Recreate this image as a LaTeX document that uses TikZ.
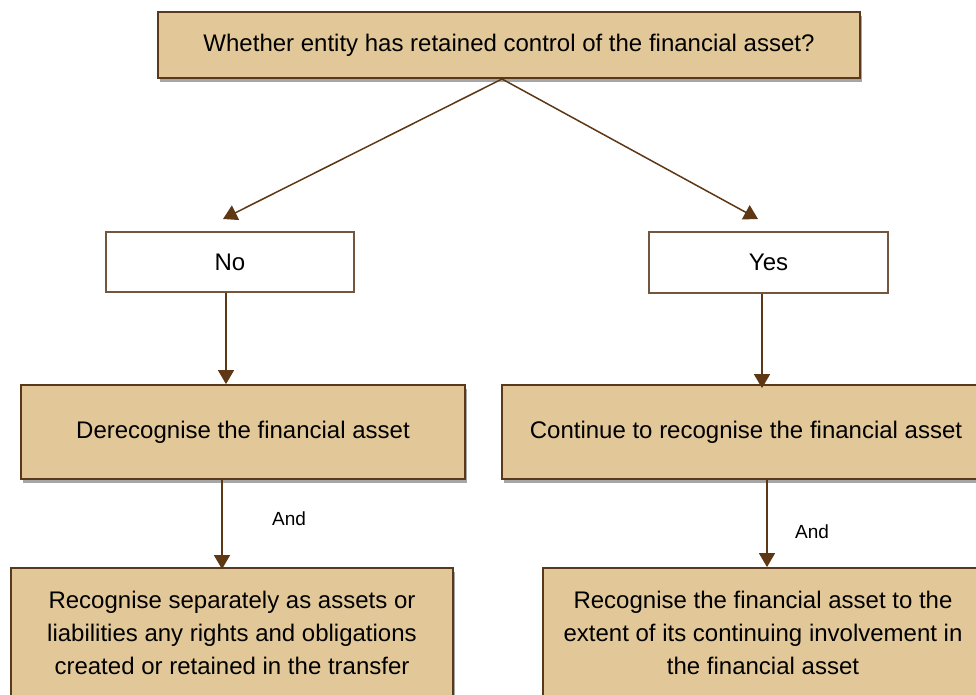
\documentclass[tikz,border=0pt]{standalone}
\usepackage{fontspec}
\setmainfont{Liberation Sans}
\usetikzlibrary{arrows.meta,shadows}

\definecolor{boxtan}{HTML}{E2C898}
\definecolor{boxedge}{HTML}{5A381C}
\definecolor{arrowbrown}{HTML}{5E3714}
\definecolor{shadowgray}{HTML}{A6A6A6}

\tikzset{
  tanbox/.style={draw=boxedge, line width=1.8pt, fill=boxtan, align=center,
    inner sep=0pt, font=\fontsize{24}{33}\selectfont,
    drop shadow={shadow xshift=2pt, shadow yshift=-4pt, fill=shadowgray, opacity=1}},
  answerbox/.style={draw=boxedge!85, line width=1.1pt, fill=white, align=center,
    inner sep=0pt, font=\fontsize{24}{33}\selectfont},
  flowarrow/.style={draw=arrowbrown, line width=1.5pt,
    -{Triangle[length=14pt,width=16pt]}},
  andlabel/.style={font=\fontsize{19}{22}\selectfont, inner sep=0pt}
}

\begin{document}
\begin{tikzpicture}[x=1pt,y=-1pt]
  \useasboundingbox (0,0) rectangle (976,695);

  % question at the top
  \node[tanbox, minimum width=702pt, minimum height=66pt] (question) at (509,45)
    {Whether entity has retained control of the financial asset?};

  % answers
  \node[answerbox, minimum width=248pt, minimum height=60pt] (no) at (230,262) {No};
  \node[answerbox, minimum width=239pt, minimum height=61pt] (yes) at (768.5,262.5) {Yes};

  % first consequences
  \node[tanbox, minimum width=444pt, minimum height=94pt] (derecog) at (243,432)
    {Derecognise the financial asset};
  \node[tanbox, minimum width=488pt, minimum height=94pt] (contrecog) at (746,432)
    {Continue to recognise the financial asset};

  % second consequences
  \node[tanbox, minimum width=442pt, minimum height=130pt] (separate) at (232,633)
    {Recognise separately as assets or\\liabilities any rights and obligations\\created or retained in the transfer};
  \node[tanbox, minimum width=440pt, minimum height=130pt] (involve) at (763,633)
    {Recognise the financial asset to the\\extent of its continuing involvement in\\the financial asset};

  % branching point and arrow tips above the answers
  \coordinate (split) at (502,79);
  \coordinate (noTip) at (223,219);
  \coordinate (yesTip) at (758,219);

  \draw[flowarrow] (split) -- (noTip);
  \draw[flowarrow] (split) -- (yesTip);

  \draw[flowarrow] ([xshift=-4pt]no.south) -- ([xshift=-4pt]no.south |- derecog.north);
  \draw[flowarrow] ([xshift=-6.5pt]yes.south) -- ([xshift=-6.5pt,yshift=-4pt]yes.south |- contrecog.north);

  \draw[flowarrow] ([xshift=-21pt]derecog.south) -- ([xshift=-21pt,yshift=-2pt]derecog.south |- separate.north);
  \draw[flowarrow] ([xshift=21pt]contrecog.south) -- ([xshift=21pt]contrecog.south |- involve.north);

  \node[andlabel] (andLeft) at (289,519) {And};
  \node[andlabel] (andRight) at (812,532) {And};
\end{tikzpicture}
\end{document}
